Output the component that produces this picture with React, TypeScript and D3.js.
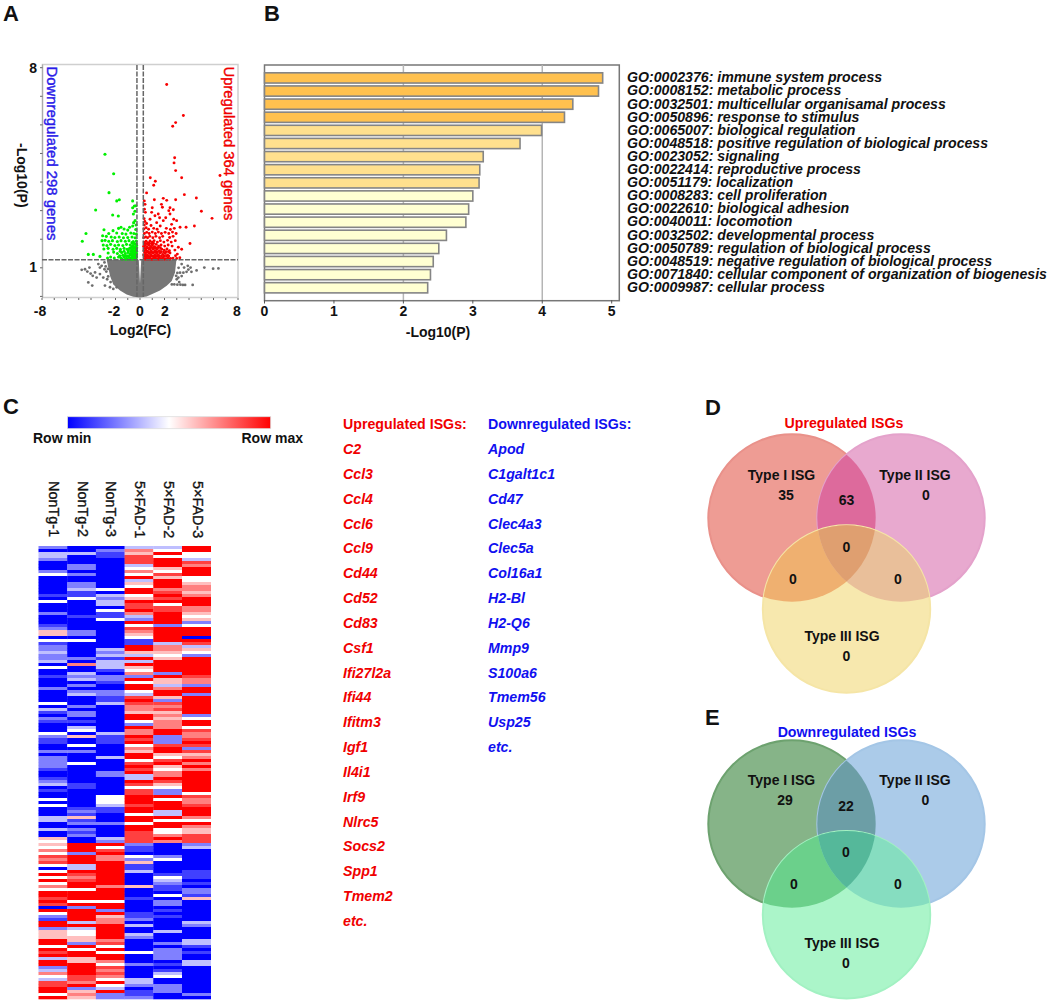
import React from 'react';
import * as d3 from 'd3';

const FONT = '"Liberation Sans", Arial, sans-serif';

// Panel A: volcano values as [log2FC, -log10P]
const upGenes: [number, number][] = [
  [2.18,7.41],[3.54,6.33],[2.91,6.08],[2.67,5.95],[2.83,4.85],[2.78,4.67],[2.91,4.4],[3.4,4.15],[0.84,4.15],[1.25,4.03],[1.12,3.89],[6.53,4.23],[3.62,3.56],[0.54,3.62],[4.6,3.44],[5.01,2.98],[5.88,2.73],[1.9,3.43],[1.17,3.38],[0.35,3.34],[0.41,3.22],[1.75,3.22],[2.91,3.38],[2.18,3.36],
  [1.83,3.12],[2.45,3.1],[2.72,3.03],[2.45,2.88],[1.49,2.88],[0.95,2.94],[0.44,2.94],[0.82,2.7],[1.22,2.82],[1.36,2.58],[0.54,2.55],[1.9,2.65],[2.58,2.52],[2.99,2.65],[3.27,2.42],[3.76,2.42],[4.44,2.46],[4.08,1.85],[3.4,1.65],[3.13,1.72],[3.05,1.48],
  [0.35,1.32],[0.5,1.35],[0.65,1.33],[0.8,1.36],[0.95,1.31],[1.1,1.34],[1.25,1.36],[1.4,1.32],[1.55,1.35],[1.7,1.33],[1.9,1.36],[2.1,1.32],[2.3,1.35],[2.5,1.33],[2.7,1.34],[3.0,1.33],[3.25,1.35],
  [0.3,1.45],[0.45,1.48],[0.6,1.44],[0.75,1.5],[0.9,1.46],[1.05,1.52],[1.2,1.45],[1.35,1.5],[1.5,1.46],[1.65,1.52],[1.85,1.47],[2.05,1.5],[2.25,1.45],[2.45,1.52],[2.9,1.42],
  [0.32,1.6],[0.48,1.62],[0.62,1.58],[0.78,1.65],[0.92,1.6],[1.08,1.66],[1.22,1.6],[1.38,1.64],[1.58,1.6],[1.78,1.65],[1.98,1.62],[2.2,1.66],[2.4,1.6],[2.85,1.62],
  [0.3,1.75],[0.42,1.78],[0.58,1.74],[0.72,1.8],[0.88,1.75],[1.02,1.8],[1.18,1.74],[1.32,1.82],[1.52,1.76],[1.72,1.8],[2.02,1.76],[2.3,1.8],[2.62,1.76],
  [0.34,1.9],[0.5,1.93],[0.66,1.88],[0.82,1.94],[1.0,1.9],[1.15,1.95],[1.42,1.9],[1.66,1.95],[1.95,1.9],[2.25,1.96],[2.55,1.9],[2.88,1.95],
  [0.3,2.05],[0.46,2.08],[0.62,2.05],[0.8,2.1],[1.05,2.05],[1.3,2.1],[1.6,2.05],[1.85,2.1],[2.42,2.06],[2.7,2.1],
  [0.36,2.2],[0.55,2.24],[0.75,2.2],[1.0,2.25],[1.25,2.2],[1.5,2.25],[1.75,2.2],[2.05,2.24],[2.35,2.2],[2.65,2.25],[2.95,2.2],
  [0.32,2.36],[0.5,2.4],[0.7,2.35],[1.12,2.38],[1.4,2.35],[2.15,2.38],[2.48,2.34],[2.8,2.38],[0.9,2.48],[1.65,2.46],[0.35,2.5],[0.4,2.62],[0.34,2.72],[2.75,2.7],[2.1,2.75],[1.6,2.75],[2.35,3.0],[0.36,3.05],[1.0,3.1],
  [0.42,1.3],[0.58,1.3],[0.72,1.3],[0.88,1.3],[1.02,1.3],[1.18,1.3],[1.32,1.3],[1.48,1.3],[1.62,1.3],[1.8,1.3],[2.0,1.3],[2.2,1.3],[2.42,1.3],
  [0.38,1.4],[0.52,1.41],[0.68,1.4],[0.85,1.41],[0.98,1.41],[1.12,1.41],[1.28,1.41],[1.42,1.41],[1.58,1.41],[1.75,1.41],[1.95,1.41],[2.15,1.41],[2.35,1.41],
  [0.38,1.54],[0.52,1.54],[0.68,1.54],[0.82,1.54],[0.98,1.54],[1.14,1.54],[1.28,1.56],[1.44,1.55],[1.72,1.56],[1.92,1.55],[2.12,1.56],[2.32,1.56],
  [0.36,1.68],[0.52,1.69],[0.68,1.68],[0.84,1.7],[1.0,1.7],[1.14,1.7],[1.28,1.7],[1.46,1.7],[1.66,1.7],[0.4,1.85],[0.58,1.84],[0.76,1.86],[0.94,1.84],[1.1,1.86]
];
const downGenes: [number, number][] = [
  [-2.86,4.97],[-2.15,4.29],[-2.53,3.63],[-1.69,3.38],[-1.9,3.34],[-0.6,3.34],[-0.46,3.16],[-0.33,3.17],[-0.6,3.1],[-0.41,2.98],[-0.54,2.88],[-3.62,3.02],[-2.23,2.85],[-1.77,2.81],[-4.41,2.2],[-4.71,1.93],[-4.22,1.47],[-3.81,1.47],[-3.27,1.4],[-2.94,2.33],
  [-0.4,2.65],[-0.52,2.58],[-0.32,2.5],[-0.6,2.46],[-0.85,2.42],[-1.55,2.42],[-1.75,2.38],[-1.3,2.36],[-1.0,2.32],[-0.35,2.34],[-2.2,2.3],[-2.55,2.2],[-1.9,2.22],[-1.45,2.2],[-1.15,2.18],[-0.75,2.22],[-0.5,2.2],[-0.3,2.18],
  [-3.05,2.12],[-2.75,2.1],[-2.35,2.08],[-2.05,2.06],[-1.7,2.08],[-1.35,2.05],[-1.0,2.06],[-0.65,2.08],[-0.4,2.05],
  [-3.1,1.95],[-2.85,1.96],[-2.55,1.93],[-2.25,1.95],[-1.85,1.92],[-1.55,1.95],[-1.2,1.93],[-0.9,1.95],[-0.55,1.92],[-0.3,1.94],
  [-3.0,1.8],[-2.7,1.78],[-2.4,1.82],[-2.05,1.78],[-1.75,1.8],[-1.4,1.78],[-1.1,1.82],[-0.8,1.8],[-0.6,1.78],[-0.42,1.82],[-0.28,1.78],
  [-2.95,1.66],[-2.6,1.68],[-2.2,1.65],[-1.9,1.68],[-1.6,1.65],[-1.3,1.68],[-1.05,1.65],[-0.85,1.68],[-0.68,1.64],[-0.5,1.68],[-0.35,1.65],[-0.27,1.7],
  [-2.6,1.52],[-2.15,1.55],[-1.85,1.5],[-1.5,1.54],[-1.2,1.5],[-0.98,1.54],[-0.78,1.5],[-0.6,1.54],[-0.45,1.5],[-0.32,1.54],
  [-2.65,1.34],[-2.4,1.38],[-2.1,1.34],[-1.75,1.38],[-1.55,1.34],[-1.3,1.38],[-1.1,1.34],[-0.9,1.38],[-0.72,1.34],[-0.55,1.38],[-0.4,1.34],[-0.28,1.38],
  [-1.65,1.42],[-1.05,1.42],[-0.85,1.44],[-0.65,1.42],[-0.5,1.44],[-0.36,1.42],[-0.28,1.48],[-0.28,1.58],
  [-1.45,1.3],[-1.2,1.3],[-1.0,1.3],[-0.8,1.3],[-0.62,1.3],[-0.47,1.3],[-0.33,1.3],[-1.4,1.44],[-1.25,1.42],[-0.72,1.46],[-0.56,1.46],[-0.42,1.44],[-0.3,1.46],
  [-0.95,1.6],[-0.72,1.58],[-0.58,1.6],[-0.42,1.58],[-0.3,1.62],[-0.7,1.72],[-0.55,1.72],[-0.4,1.72],[-0.3,1.84],[-0.48,1.86],[-0.66,1.88],[-1.3,1.58],[-1.62,1.58]
];
const blobX = [-2.72,-2.59,-2.45,-2.18,-1.63,-1.09,-0.54,0,0.54,1.09,1.63,2.18,2.59,2.86,2.97,0.1,0,-0.1];
const blobY = [1.28,1.01,0.72,0.42,0.21,0.07,-0.01,-0.04,0,0.1,0.21,0.37,0.54,0.84,1.28,1.28,0.45,1.28];
const otherGenes: [number, number][] = [
  [-4.76,0.93],[-4.49,0.95],[-4.13,1.01],[-4.3,0.87],[-4.03,0.8],[-3.86,0.72],[-3.67,0.84],[-3.4,1.13],[-3.13,1.07],[-3.27,0.78],[-3.0,0.66],[-2.68,0.6],[-4.22,0.49],[-3.9,0.38],[-3.27,1.01],[-2.86,0.38],[-2.45,0.32],[-2.18,0.26],[-1.9,0.32],[-3.54,0.66],[-2.62,0.96],[-2.9,1.19],[-2.75,0.87],
  [3.4,1.13],[3.6,1.01],[3.9,1.07],[4.13,1.01],[4.62,0.91],[5.25,1.01],[5.97,0.97],[6.4,0.98],[4.3,0.4],[3.68,0.4],[3.5,0.4],[3.3,0.41],[3.05,0.41],[2.8,0.42],[3.4,0.71],[3.27,0.83],[3.13,0.66],[3.0,0.6],[3.95,0.94],[3.54,0.83],[3.8,0.86],[4.2,0.86],[3.2,0.5],
  [2.6,0.42],[3.15,1.0],[3.05,0.82],[2.95,0.72],[-2.8,1.05],[-2.9,0.95],[-2.6,0.7],[-2.4,0.5]
];

// Panel B
const goLabels = [
  'GO:0002376: immune system process','GO:0008152: metabolic process','GO:0032501: multicellular organisamal process','GO:0050896: response to stimulus','GO:0065007: biological regulation','GO:0048518: positive regulation of biological process','GO:0023052: signaling','GO:0022414: reproductive process','GO:0051179: localization','GO:0008283: cell proliferation','GO:0022610: biological adhesion','GO:0040011: locomotion','GO:0032502: developmental process','GO:0050789: regulation of biological process','GO:0048519: negative regulation of biological process','GO:0071840: cellular component of organization of biogenesis','GO:0009987: cellular process'
];
const goValues = [4.87,4.81,4.44,4.32,3.99,3.68,3.15,3.1,3.09,3.0,2.94,2.9,2.62,2.51,2.43,2.39,2.35];
const goTiers = [0,0,0,0,1,1,1,1,1,2,2,2,2,2,2,2,2];
const tierColors = ['#FFC14F','#FFE08E','#FFFFD2'];

// Panel C: one string per column, ten rows per chunk; 0 = row min, 4 = middle, 8 = row max
const heatLevels: string[][] = [
  ['2033200024','0000001040','0020001255','0412232230','4001000200','0040310210','0042110020','2222100123','0100404000','3300300545','4647674048','4846488787','0842188255','5884878388','2364377884','8'],
  ['0030002202','0022311400','0001000022','0400000206','0032302023','0002022010','3405004020','0040000001','1000000121','5120212008','8828883387','6788488848','2888838344','5528488558','8887768256','5'],
  ['0211000000','0000403233','0411400000','0000323133','3102210022','1130000000','0031110000','3000022000','0004443110','0020000328','4786688888','8886888848','8285668888','8674848864','7676484382','2'],
  ['3657773464','8354884587','7863284765','4118853838','5462848843','7876658842','8668784658','8478783387','4778887884','8848877772','1104251130','0005000100','0011203003','2000040002','0000332011','2'],
  ['3484888547','5888678784','7788882888','8836654588','8828553688','5276756566','6882227885','4785466875','4228488833','8488446860','0002400001','4321104022','0101000030','0020222201','0134002220','0'],
  ['8844376888','4456656888','6654524888','0873542888','8887662882','8888882488','4766787275','6868688888','8847667888','6486557772','3000000011','1010221500','0000032000','0331010033','0000000002','0']
];
const sampleNames = ['NonTg-1','NonTg-2','NonTg-3','5×FAD-1','5×FAD-2','5×FAD-3'];
const upISGs = ['C2','Ccl3','Ccl4','Ccl6','Ccl9','Cd44','Cd52','Cd83','Csf1','Ifi27l2a','Ifi44','Ifitm3','Igf1','Il4i1','Irf9','Nlrc5','Socs2','Spp1','Tmem2','etc.'];
const downISGs = ['Apod','C1galt1c1','Cd47','Clec4a3','Clec5a','Col16a1','H2-Bl','H2-Q6','Mmp9','S100a6','Tmem56','Usp25','etc.'];

// Panels D, E
const vennUpCounts = ['35','63','0','0','0','0','0'];
const vennDownCounts = ['29','22','0','0','0','0','0'];
const vennUpColors = { a:'#EE9C94', b:'#E8A9CF', c:'#F7E8AE', ab:'#DD6A9C', ac:'#EFB070', bc:'#E9BF9A', abc:'#DF9F70', ea:'#E9918A', eb:'#E4A2CB', ec:'#F5E5A6' };
const vennDownColors = { a:'#86B488', b:'#ABCBE9', c:'#ABF5C9', ab:'#6C9EA6', ac:'#6BD08B', bc:'#86DDC0', abc:'#55B89A', ea:'#6DA26F', eb:'#A4C6E6', ec:'#A2F1C2' };

const x0 = d3.scaleLinear().domain([-8, 8]).range([42, 238]);
const y0 = d3.scaleLinear().domain([0, 8]).range([296.4, 67.7]);
const xB = d3.scaleLinear().domain([0, 5]).range([264.5, 611.7]);
const yB = d3.scaleBand<number>().domain(d3.range(goValues.length)).range([71.5, 294.2]).paddingInner(0.22).paddingOuter(0.1);
const heatColor = d3.scaleLinear<string>().domain([0, 4, 8]).range(['#0000ff', '#ffffff', '#ff0000']);
const xH = d3.scaleBand<number>().domain(d3.range(6)).range([38.5, 210.7]);
const yH = d3.scaleBand<number>().domain(d3.range(151)).range([546, 999]);

const T = (p: any) => <text fontFamily={FONT} fontWeight="bold" fontSize={14} fill="#111" {...p} />;

function VolcanoPanel() {
  const blob = d3.line<number>().x(i => x0(blobX[i])).y(i => y0(blobY[i]))(d3.range(blobX.length)) + 'Z';
  return (
    <g>
      <T x={3} y={21} fontSize={22} >A</T>
      <rect x={42.5} y={64.5} width={195.5} height={233} fill="#fff" stroke="#cfcfcf" strokeWidth={1.5} />
      <line x1={42.5} x2={42.5} y1={64.5} y2={298} stroke="#aaa" strokeWidth={1.2} />
      {d3.range(0, 9).map(v => <line key={v} x1={40} x2={42.5} y1={y0(v)} y2={y0(v)} stroke="#666" />)}
      {d3.range(-8, 9).map(v => <line key={v} x1={x0(v)} x2={x0(v)} y1={298} y2={300} stroke="#666" />)}
      <g filter="url(#soft)">
        <path d={blob} fill="#777" />
        {otherGenes.map((p, i) => <circle key={i} cx={x0(p[0])} cy={y0(p[1])} r={1.4} fill="#6e6e6e" />)}
        {downGenes.map((p, i) => <circle key={i} cx={x0(p[0])} cy={y0(p[1])} r={1.55} fill="#00f000" />)}
        {upGenes.map((p, i) => <circle key={i} cx={x0(p[0])} cy={y0(p[1])} r={1.45} fill="#f80000" />)}
      </g>
      <line x1={42} x2={238} y1={y0(1.28)} y2={y0(1.28)} stroke="#666" strokeWidth={1.5} strokeDasharray="5 1.5" />
      <line x1={x0(-0.25)} x2={x0(-0.25)} y1={65} y2={297} stroke="#666" strokeWidth={1.5} strokeDasharray="5 1.5" />
      <line x1={x0(0.27)} x2={x0(0.27)} y1={65} y2={297} stroke="#666" strokeWidth={1.5} strokeDasharray="5 1.5" />
      <T x={37} y={73} textAnchor="end">8</T>
      <T x={37} y={272} textAnchor="end">1</T>
      <T transform="translate(17,143) rotate(90)">-Log10(P)</T>
      {[[-8, 40], [-2, 114], [0, 140], [2, 165], [8, 237]].map(([v, x]) => <T key={v} x={x} y={316} textAnchor="middle">{v}</T>)}
      <T x={140.5} y={335} textAnchor="middle">Log2(FC)</T>
      <text transform="translate(47,66.5) rotate(90)" fontFamily={FONT} fontSize={14.9} fill="#2a1be8" stroke="#2a1be8" strokeWidth={0.4}>Downregulated 298 genes</text>
      <text transform="translate(224,66.5) rotate(90)" fontFamily={FONT} fontSize={14.8} fill="#f00000" stroke="#f00000" strokeWidth={0.4}>Upregulated 364 genes</text>
    </g>
  );
}

function BarPanel() {
  return (
    <g>
      <T x={264} y={21} fontSize={22}>B</T>
      <rect x={264.5} y={65} width={354.8} height={235.7} fill="#fff" stroke="#777" strokeWidth={1.5} />
      {[2, 4].map(v => <line key={v} x1={xB(v)} x2={xB(v)} y1={65} y2={300} stroke="#b5b5b5" strokeWidth={1.5} />)}
      {d3.range(0, 6).map(v => <line key={v} x1={xB(v)} x2={xB(v)} y1={300} y2={303.5} stroke="#555" />)}
      {goValues.map((v, i) => (
        <rect key={i} x={xB(0)} y={yB(i)} width={xB(v) - xB(0)} height={yB.bandwidth()} fill={tierColors[goTiers[i]]} stroke="#858585" strokeWidth={1.6} />
      ))}
      {d3.range(0, 6).map(v => <T key={v} x={xB(v)} y={315.5} textAnchor="middle">{v}</T>)}
      <T x={438} y={337} textAnchor="middle">-Log10(P)</T>
      {goLabels.map((s, i) => (
        <text key={i} x={627} y={82.3 + i * 13.1} fontFamily={FONT} fontWeight="bold" fontStyle="italic" fontSize={14.14} fill="#111">{s}</text>
      ))}
    </g>
  );
}

function HeatPanel() {
  return (
    <g>
      <T x={3} y={414} fontSize={22}>C</T>
      <defs>
        <linearGradient id="rowScale" x1="0" x2="1" y1="0" y2="0">
          <stop offset="0" stopColor="#0000ff" />
          <stop offset="0.5" stopColor="#ffffff" />
          <stop offset="1" stopColor="#ff0000" />
        </linearGradient>
        <filter id="soft" x="-2%" y="-2%" width="104%" height="104%">
          <feGaussianBlur stdDeviation="0.45" />
        </filter>
      </defs>
      <rect x={67.5} y={416.7} width={203.2} height={12} fill="url(#rowScale)" stroke="#ddd" strokeWidth={0.8} />
      <T x={33} y={443} >Row min</T>
      <T x={241.5} y={443}>Row max</T>
      {sampleNames.map((s, i) => (
        <text key={s} transform={`translate(${xH(i)! + xH.bandwidth() / 2 - 3.8},481) rotate(90)`} fontFamily={FONT} fontSize={14.4} fill="#111" stroke="#111" strokeWidth={0.35}>{s}</text>
      ))}
      <g filter="url(#soft)">
        {heatLevels.map((col, c) => col.join('').split('').map((lv, r) => (
          <rect key={c + '-' + r} x={xH(c)} y={yH(r)} width={xH.bandwidth() + 0.3} height={yH.bandwidth() + 0.3} fill={heatColor(+lv)} />
        )))}
      </g>
      <T x={343} y={429} fill="#f00000" fontSize={14.2}>Upregulated ISGs:</T>
      <T x={488} y={429} fill="#1010f0" fontSize={14.2}>Downregulated ISGs:</T>
      {upISGs.map((s, i) => <T key={s} x={343} y={454 + i * 24.84} fill="#f00000" fontSize={14.2} fontStyle="italic">{s}</T>)}
      {downISGs.map((s, i) => <T key={s} x={488} y={454 + i * 24.84} fill="#1010f0" fontSize={14.2} fontStyle="italic">{s}</T>)}
    </g>
  );
}

function Venn({ id, cy1, cy3, colors, counts, pts, title, titleFill, titleX, titleY, letter, letterY, labelY }: any) {
  const A = { cx: 792, cy: cy1, r: 83.7 };
  const B = { cx: 901, cy: cy1, r: 83.7 };
  const C = { cx: 846.5, cy: cy3, r: 83.7 };
  const c = (p: any, fill: any, extra: any = {}) => <circle cx={p.cx} cy={p.cy} r={p.r} fill={fill} {...extra} />;
  return (
    <g>
      <defs>
        <clipPath id={id + 'A'}>{c(A, '#000')}</clipPath>
        <clipPath id={id + 'B'}>{c(B, '#000')}</clipPath>
        <clipPath id={id + 'C'}>{c(C, '#000')}</clipPath>
      </defs>
      {c(A, colors.a, { stroke: colors.ea, strokeWidth: 2 })}
      {c(B, colors.b, { stroke: colors.eb, strokeWidth: 2 })}
      <g clipPath={`url(#${id}A)`}>{c(B, colors.ab)}</g>
      {c(C, colors.c, { stroke: colors.ec, strokeWidth: 2 })}
      <g clipPath={`url(#${id}C)`}>
        {c(A, colors.ac)}
        {c(B, colors.bc)}
        <g clipPath={`url(#${id}A)`}>{c(B, colors.abc)}</g>
      </g>
      <T x={705} y={letterY} fontSize={22}>{letter}</T>
      <T x={titleX} y={titleY} textAnchor="middle" fill={titleFill} fontSize={14.2}>{title}</T>
      <T x={781.5} y={labelY[0]} textAnchor="middle">Type I ISG</T>
      <T x={915} y={labelY[0]} textAnchor="middle">Type II ISG</T>
      <T x={842} y={labelY[1]} textAnchor="middle">Type III ISG</T>
      {counts.map((n: string, i: number) => <T key={i} x={pts[i][0]} y={pts[i][1]} textAnchor="middle">{n}</T>)}
    </g>
  );
}

export default function App() {
  return (
    <svg width={1050} height={1005} viewBox="0 0 1050 1005" style={{ position: 'absolute', left: 0, top: 0, display: 'block', background: '#fff' }}>
      <VolcanoPanel />
      <BarPanel />
      <HeatPanel />
      <Venn id="vu" cy1={518} cy3={609} colors={vennUpColors} counts={vennUpCounts} title="Upregulated ISGs" titleFill="#f00000" titleX={844} titleY={428} letter="D" letterY={415} labelY={[480, 641]}
        pts={[[786, 500], [846.5, 505], [926, 500], [846.5, 552], [793, 584], [898, 584], [846.5, 661]]} />
      <Venn id="vd" cy1={824} cy3={914.7} colors={vennDownColors} counts={vennDownCounts} title="Downregulated ISGs" titleFill="#1010f0" titleX={847} titleY={737} letter="E" letterY={725} labelY={[785, 948]}
        pts={[[785, 805], [846, 811], [925.5, 805], [846, 857], [794, 889], [898, 889], [846, 968]]} />
    </svg>
  );
}
